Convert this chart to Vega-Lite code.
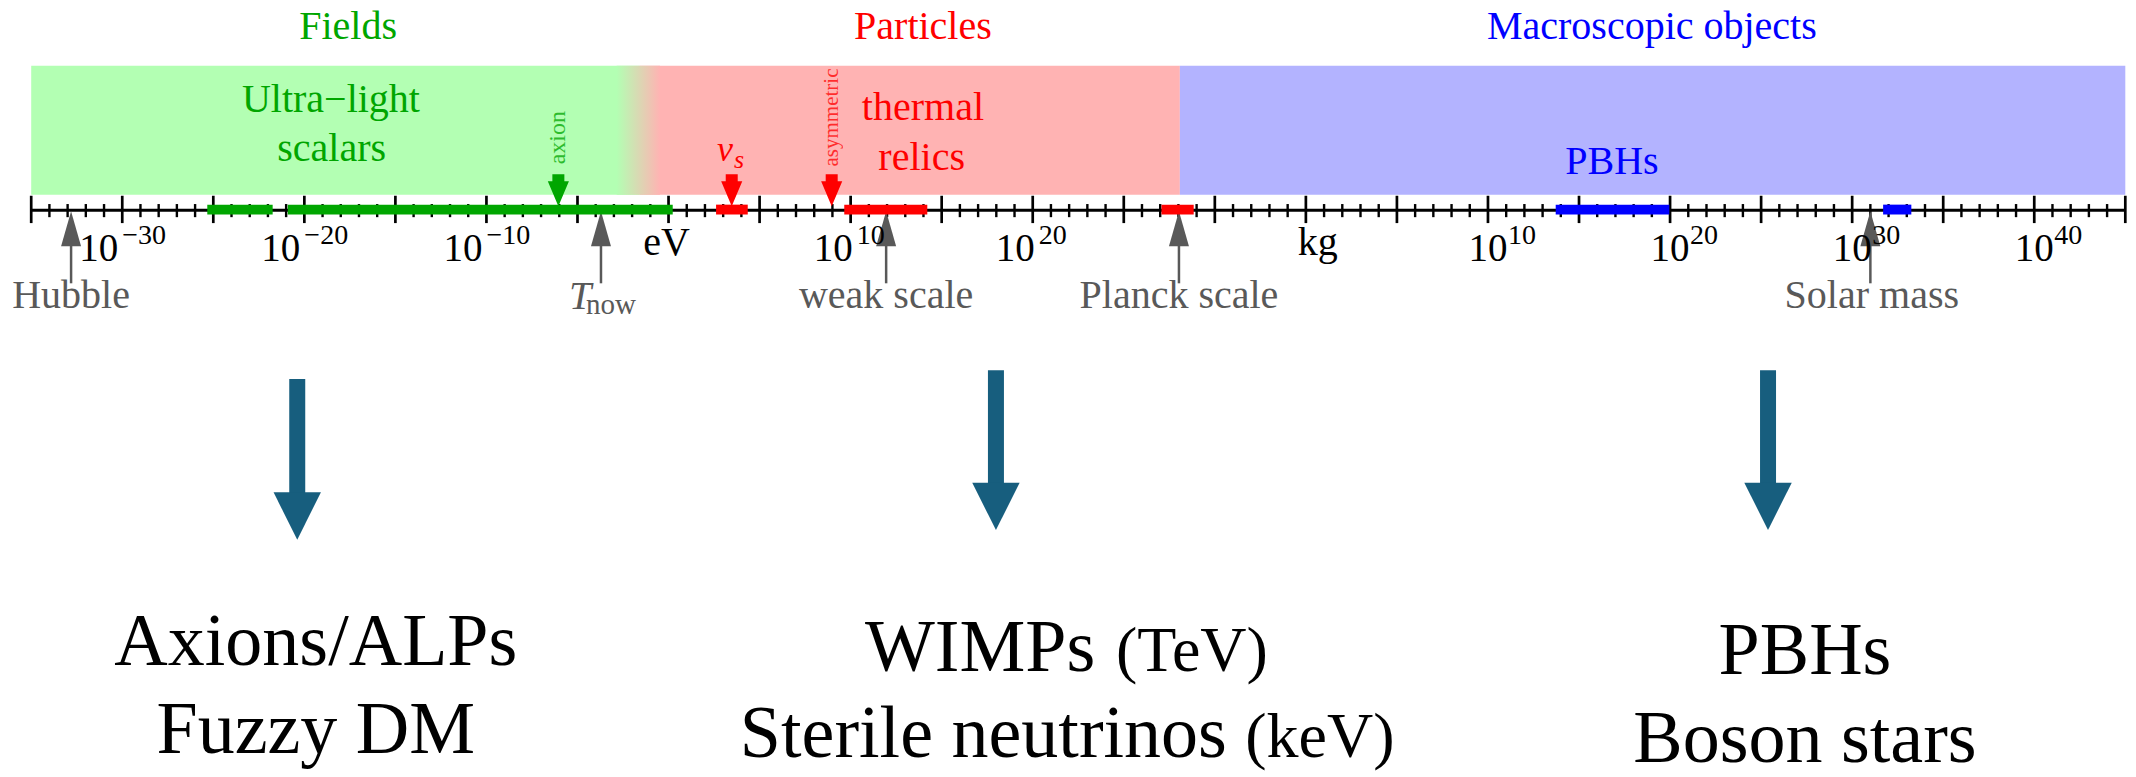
{
  "$schema": "https://vega.github.io/schema/vega-lite/v6.json",
  "width": 2136,
  "height": 777,
  "padding": 0,
  "autosize": {"type": "fit", "contains": "padding"},
  "background": "white",
  "config": {
    "view": {"stroke": null},
    "axis": {"disable": true},
    "legend": {"disable": true},
    "font": "Liberation Serif",
    "text": {"font": "Liberation Serif", "baseline": "alphabetic"}
  },
  "datasets": {
    "majors": [{"u":-35},{"u":-30},{"u":-25},{"u":-20},{"u":-15},{"u":-10},{"u":-5},{"u":0},{"u":5},{"u":10},{"u":15},{"u":20},{"u":25},{"u":30},{"u":35},{"u":40},{"u":45},{"u":50},{"u":55},{"u":60},{"u":65},{"u":70},{"u":75},{"u":80}],
    "minors": [{"u":-34},{"u":-33},{"u":-32},{"u":-31},{"u":-29},{"u":-28},{"u":-27},{"u":-26},{"u":-24},{"u":-23},{"u":-22},{"u":-21},{"u":-19},{"u":-18},{"u":-17},{"u":-16},{"u":-14},{"u":-13},{"u":-12},{"u":-11},{"u":-9},{"u":-8},{"u":-7},{"u":-6},{"u":-4},{"u":-3},{"u":-2},{"u":-1},{"u":1},{"u":2},{"u":3},{"u":4},{"u":6},{"u":7},{"u":8},{"u":9},{"u":11},{"u":12},{"u":13},{"u":14},{"u":16},{"u":17},{"u":18},{"u":19},{"u":21},{"u":22},{"u":23},{"u":24},{"u":26},{"u":27},{"u":28},{"u":29},{"u":31},{"u":32},{"u":33},{"u":34},{"u":36},{"u":37},{"u":38},{"u":39},{"u":41},{"u":42},{"u":43},{"u":44},{"u":46},{"u":47},{"u":48},{"u":49},{"u":51},{"u":52},{"u":53},{"u":54},{"u":56},{"u":57},{"u":58},{"u":59},{"u":61},{"u":62},{"u":63},{"u":64},{"u":66},{"u":67},{"u":68},{"u":69},{"u":71},{"u":72},{"u":73},{"u":74},{"u":76},{"u":77},{"u":78},{"u":79}],
    "gray": [{"name":"Hubble","u":-32.81},{"name":"T_now","u":-3.71},{"name":"weak scale","u":11.95},{"name":"Planck scale","u":28.03},{"name":"Solar mass","u":66.0}],
    "exps": [{"u":-30,"e":"−30","side":"neg"},{"u":-20,"e":"−20","side":"neg"},{"u":-10,"e":"−10","side":"neg"},{"u":10,"e":"10","side":"eV"},{"u":20,"e":"20","side":"eV"},{"u":45,"e":"10","side":"kg"},{"u":55,"e":"20","side":"kg"},{"u":65,"e":"30","side":"kg"},{"u":75,"e":"40","side":"kg"}],
    "big": [{"u":-20.39,"g":"left"},{"u":17.98,"g":"mid"},{"u":60.38,"g":"right"}],
    "bottom": [
      {"t":"Axions/ALPs","u":-19.37,"g":"left","line":1,"sz":"big"},
      {"t":"Fuzzy DM","u":-19.37,"g":"left","line":2,"sz":"big"},
      {"t":"WIMPs","u":17.11,"g":"mid","line":1,"sz":"big"},
      {"t":"(TeV)","u":28.74,"g":"mid","line":1,"sz":"small"},
      {"t":"Sterile neutrinos","u":17.29,"g":"mid","line":2,"sz":"big"},
      {"t":"(keV)","u":35.77,"g":"mid","line":2,"sz":"small"},
      {"t":"PBHs","u":62.41,"g":"right","line":1,"sz":"big"},
      {"t":"Boson stars","u":62.41,"g":"right","line":2,"sz":"big"}
    ]
  },
  "layer": [
    {
      "data": {"values": [{"cat":"Fields","u":-35,"u1":-1.6},{"cat":"Particles","u":-1.6,"u1":28.08},{"cat":"Macroscopic objects","u":28.08,"u1":80}]},
      "mark": {"type": "rect", "strokeWidth": 0},
      "encoding": {
        "x": {"field":"u","type":"quantitative","scale":{"domain":[-36.7134,80.5874],"nice":false,"zero":false}},
        "x2": {"field":"u1"},
        "y": {"datum":146.3,"type":"quantitative","scale":{"domain":[-564,213],"nice":false,"zero":false}},
        "y2": {"datum":15.7},
        "fill": {"field":"cat","type":"nominal","scale":{"domain":["Fields","Particles","Macroscopic objects"],"range":["#b3ffb3","#ffb3b3","#b3b3ff"]},"legend":null}
      }
    },
    {
      "data": {"values": [{"u":-2.85,"u1":-0.47}]},
      "mark": {"type": "rect", "strokeWidth": 0, "fill": {"gradient":"linear","x1":0,"y1":0,"x2":1,"y2":0,"stops":[{"offset":0,"color":"#b3ffb3"},{"offset":1,"color":"#ffb3b3"}]}},
      "encoding": {
        "x": {"field":"u","type":"quantitative","scale":{"domain":[-36.7134,80.5874],"nice":false,"zero":false}},
        "x2": {"field":"u1"},
        "y": {"datum":146.3,"type":"quantitative","scale":{"domain":[-564,213],"nice":false,"zero":false}},
        "y2": {"datum":15.7}
      }
    },
    {
      "data": {"name": "majors"},
      "mark": {"type": "rule", "color": "black", "strokeWidth": 2.7},
      "encoding": {
        "x": {"field":"u","type":"quantitative","scale":{"domain":[-36.7134,80.5874],"nice":false,"zero":false}},
        "y": {"datum":14.7,"type":"quantitative","scale":{"domain":[-564,213],"nice":false,"zero":false}},
        "y2": {"datum":-13}
      }
    },
    {
      "data": {"name": "minors"},
      "mark": {"type": "rule", "color": "black", "strokeWidth": 2.4},
      "encoding": {
        "x": {"field":"u","type":"quantitative","scale":{"domain":[-36.7134,80.5874],"nice":false,"zero":false}},
        "y": {"datum":6.3,"type":"quantitative","scale":{"domain":[-564,213],"nice":false,"zero":false}},
        "y2": {"datum":-7}
      }
    },
    {
      "data": {"values": [{"u":-35,"u1":80}]},
      "mark": {"type": "rule", "color": "black", "strokeWidth": 3},
      "encoding": {
        "x": {"field":"u","type":"quantitative","scale":{"domain":[-36.7134,80.5874],"nice":false,"zero":false}},
        "x2": {"field":"u1"},
        "y": {"datum":0,"type":"quantitative","scale":{"domain":[-564,213],"nice":false,"zero":false}}
      }
    },
    {
      "data": {"name": "gray"},
      "mark": {"type": "rule", "color": "#595959", "strokeWidth": 2.5},
      "encoding": {
        "x": {"field":"u","type":"quantitative","scale":{"domain":[-36.7134,80.5874],"nice":false,"zero":false}},
        "y": {"datum":-30,"type":"quantitative","scale":{"domain":[-564,213],"nice":false,"zero":false}},
        "y2": {"datum":-74}
      }
    },
    {
      "data": {"name": "gray"},
      "mark": {"type": "point", "shape": "M0,0 L0.571,2 L-0.571,2 Z", "size": 1225, "filled": true, "opacity": 1, "color": "#595959", "strokeWidth": 0},
      "encoding": {
        "x": {"field":"u","type":"quantitative","scale":{"domain":[-36.7134,80.5874],"nice":false,"zero":false}},
        "y": {"datum":-1,"type":"quantitative","scale":{"domain":[-564,213],"nice":false,"zero":false}}
      }
    },
    {
      "data": {"values": [{"cat":"Fields","u":-6.05},{"cat":"Particles","u":3.47},{"cat":"Particles","u":8.96}]},
      "mark": {"type": "point", "shape": "M0,0 L0.66,-1.56 L0.375,-1.56 L0.375,-2 L-0.375,-2 L-0.375,-1.56 L-0.66,-1.56 Z", "size": 1024, "filled": true, "opacity": 1, "strokeWidth": 0},
      "encoding": {
        "x": {"field":"u","type":"quantitative","scale":{"domain":[-36.7134,80.5874],"nice":false,"zero":false}},
        "y": {"datum":4,"type":"quantitative","scale":{"domain":[-564,213],"nice":false,"zero":false}},
        "color": {"field":"cat","type":"nominal","scale":{"domain":["Fields","Particles","Macroscopic objects"],"range":["#00a600","#ff0000","#0000ff"]},"legend":null}
      }
    },
    {
      "data": {"values": [
        {"cat":"Fields","u":-25.33,"u1":-21.74},
        {"cat":"Fields","u":-20.91,"u1":0.23},
        {"cat":"Particles","u":2.61,"u1":4.35},
        {"cat":"Particles","u":9.65,"u1":14.21},
        {"cat":"Particles","u":27.07,"u1":28.84},
        {"cat":"Macroscopic objects","u":48.72,"u1":54.96},
        {"cat":"Macroscopic objects","u":66.7,"u1":68.25}
      ]},
      "mark": {"type": "rect", "strokeWidth": 0},
      "encoding": {
        "x": {"field":"u","type":"quantitative","scale":{"domain":[-36.7134,80.5874],"nice":false,"zero":false}},
        "x2": {"field":"u1"},
        "y": {"datum":5.7,"type":"quantitative","scale":{"domain":[-564,213],"nice":false,"zero":false}},
        "y2": {"datum":-4.3},
        "color": {"field":"cat","type":"nominal","scale":{"domain":["Fields","Particles","Macroscopic objects"],"range":["#00a600","#ff0000","#0000ff"]},"legend":null}
      }
    },
    {
      "data": {"values": [{"cat":"Fields","u":-17.6},{"cat":"Particles","u":13.97},{"cat":"Macroscopic objects","u":54.0}]},
      "mark": {"type": "text", "font": "Liberation Serif", "baseline": "alphabetic", "fontSize": 40, "align": "center"},
      "encoding": {
        "x": {"field":"u","type":"quantitative","scale":{"domain":[-36.7134,80.5874],"nice":false,"zero":false}},
        "y": {"datum":173,"type":"quantitative","scale":{"domain":[-564,213],"nice":false,"zero":false}},
        "text": {"field":"cat"},
        "color": {"field":"cat","type":"nominal","scale":{"domain":["Fields","Particles","Macroscopic objects"],"range":["#00a600","#ff0000","#0000ff"]},"legend":null}
      }
    },
    {
      "data": {"values": [{"t":"Ultra−light","u":-18.54}]},
      "mark": {"type": "text", "font": "Liberation Serif", "baseline": "alphabetic", "fontSize": 40, "align": "center", "color": "#00a600"},
      "encoding": {
        "x": {"field":"u","type":"quantitative","scale":{"domain":[-36.7134,80.5874],"nice":false,"zero":false}},
        "y": {"datum":100,"type":"quantitative","scale":{"domain":[-564,213],"nice":false,"zero":false}},
        "text": {"field":"t"}
      }
    },
    {
      "data": {"values": [{"t":"scalars","u":-18.5}]},
      "mark": {"type": "text", "font": "Liberation Serif", "baseline": "alphabetic", "fontSize": 40, "align": "center", "color": "#00a600"},
      "encoding": {
        "x": {"field":"u","type":"quantitative","scale":{"domain":[-36.7134,80.5874],"nice":false,"zero":false}},
        "y": {"datum":50,"type":"quantitative","scale":{"domain":[-564,213],"nice":false,"zero":false}},
        "text": {"field":"t"}
      }
    },
    {
      "data": {"values": [{"t":"thermal","u":13.97}]},
      "mark": {"type": "text", "font": "Liberation Serif", "baseline": "alphabetic", "fontSize": 40, "align": "center", "color": "#ff0000"},
      "encoding": {
        "x": {"field":"u","type":"quantitative","scale":{"domain":[-36.7134,80.5874],"nice":false,"zero":false}},
        "y": {"datum":91,"type":"quantitative","scale":{"domain":[-564,213],"nice":false,"zero":false}},
        "text": {"field":"t"}
      }
    },
    {
      "data": {"values": [{"t":"relics","u":13.9}]},
      "mark": {"type": "text", "font": "Liberation Serif", "baseline": "alphabetic", "fontSize": 40, "align": "center", "color": "#ff0000"},
      "encoding": {
        "x": {"field":"u","type":"quantitative","scale":{"domain":[-36.7134,80.5874],"nice":false,"zero":false}},
        "y": {"datum":41,"type":"quantitative","scale":{"domain":[-564,213],"nice":false,"zero":false}},
        "text": {"field":"t"}
      }
    },
    {
      "data": {"values": [{"t":"PBHs","u":51.81}]},
      "mark": {"type": "text", "font": "Liberation Serif", "baseline": "alphabetic", "fontSize": 40, "align": "center", "color": "#0000ff"},
      "encoding": {
        "x": {"field":"u","type":"quantitative","scale":{"domain":[-36.7134,80.5874],"nice":false,"zero":false}},
        "y": {"datum":36.3,"type":"quantitative","scale":{"domain":[-564,213],"nice":false,"zero":false}},
        "text": {"field":"t"}
      }
    },
    {
      "data": {"values": [{"t":"axion","u":-6.05}]},
      "mark": {"type": "text", "font": "Liberation Serif", "fontSize": 24, "align": "center", "baseline": "middle", "angle": 270, "color": "#00a600", "opacity": 0.75},
      "encoding": {
        "x": {"field":"u","type":"quantitative","scale":{"domain":[-36.7134,80.5874],"nice":false,"zero":false}},
        "y": {"datum":73.5,"type":"quantitative","scale":{"domain":[-564,213],"nice":false,"zero":false}},
        "text": {"field":"t"}
      }
    },
    {
      "data": {"values": [{"t":"asymmetric","u":8.96}]},
      "mark": {"type": "text", "font": "Liberation Serif", "fontSize": 21, "align": "center", "baseline": "middle", "angle": 270, "color": "#ff0000", "opacity": 0.75},
      "encoding": {
        "x": {"field":"u","type":"quantitative","scale":{"domain":[-36.7134,80.5874],"nice":false,"zero":false}},
        "y": {"datum":94,"type":"quantitative","scale":{"domain":[-564,213],"nice":false,"zero":false}},
        "text": {"field":"t"}
      }
    },
    {
      "data": {"values": [{"t":"ν","u":3.1}]},
      "mark": {"type": "text", "font": "Liberation Serif", "baseline": "alphabetic", "fontSize": 36, "fontStyle": "italic", "align": "center", "color": "#ff0000"},
      "encoding": {
        "x": {"field":"u","type":"quantitative","scale":{"domain":[-36.7134,80.5874],"nice":false,"zero":false}},
        "y": {"datum":49.7,"type":"quantitative","scale":{"domain":[-564,213],"nice":false,"zero":false}},
        "text": {"field":"t"}
      }
    },
    {
      "data": {"values": [{"t":"s","u":3.87}]},
      "mark": {"type": "text", "font": "Liberation Serif", "baseline": "alphabetic", "fontSize": 26, "fontStyle": "italic", "align": "center", "color": "#ff0000"},
      "encoding": {
        "x": {"field":"u","type":"quantitative","scale":{"domain":[-36.7134,80.5874],"nice":false,"zero":false}},
        "y": {"datum":43,"type":"quantitative","scale":{"domain":[-564,213],"nice":false,"zero":false}},
        "text": {"field":"t"}
      }
    },
    {
      "data": {"name": "exps"},
      "transform": [{"filter": "datum.side == 'neg'"}],
      "mark": {"type": "text", "font": "Liberation Serif", "baseline": "alphabetic", "fontSize": 39, "align": "right", "dx": -4, "color": "black"},
      "encoding": {
        "x": {"field":"u","type":"quantitative","scale":{"domain":[-36.7134,80.5874],"nice":false,"zero":false}},
        "y": {"datum":-51,"type":"quantitative","scale":{"domain":[-564,213],"nice":false,"zero":false}},
        "text": {"value":"10"}
      }
    },
    {
      "data": {"name": "exps"},
      "transform": [{"filter": "datum.side == 'neg'"}],
      "mark": {"type": "text", "font": "Liberation Serif", "baseline": "alphabetic", "fontSize": 28, "align": "left", "dx": 0, "color": "black"},
      "encoding": {
        "x": {"field":"u","type":"quantitative","scale":{"domain":[-36.7134,80.5874],"nice":false,"zero":false}},
        "y": {"datum":-33.7,"type":"quantitative","scale":{"domain":[-564,213],"nice":false,"zero":false}},
        "text": {"field":"e"}
      }
    },
    {
      "data": {"name": "exps"},
      "transform": [{"filter": "datum.side == 'eV'"}],
      "mark": {"type": "text", "font": "Liberation Serif", "baseline": "alphabetic", "fontSize": 39, "align": "right", "dx": 2, "color": "black"},
      "encoding": {
        "x": {"field":"u","type":"quantitative","scale":{"domain":[-36.7134,80.5874],"nice":false,"zero":false}},
        "y": {"datum":-51,"type":"quantitative","scale":{"domain":[-564,213],"nice":false,"zero":false}},
        "text": {"value":"10"}
      }
    },
    {
      "data": {"name": "exps"},
      "transform": [{"filter": "datum.side == 'eV'"}],
      "mark": {"type": "text", "font": "Liberation Serif", "baseline": "alphabetic", "fontSize": 28, "align": "left", "dx": 6, "color": "black"},
      "encoding": {
        "x": {"field":"u","type":"quantitative","scale":{"domain":[-36.7134,80.5874],"nice":false,"zero":false}},
        "y": {"datum":-33.7,"type":"quantitative","scale":{"domain":[-564,213],"nice":false,"zero":false}},
        "text": {"field":"e"}
      }
    },
    {
      "data": {"name": "exps"},
      "transform": [{"filter": "datum.side == 'kg'"}],
      "mark": {"type": "text", "font": "Liberation Serif", "baseline": "alphabetic", "fontSize": 39, "align": "right", "dx": 19.5, "color": "black"},
      "encoding": {
        "x": {"field":"u","type":"quantitative","scale":{"domain":[-36.7134,80.5874],"nice":false,"zero":false}},
        "y": {"datum":-51,"type":"quantitative","scale":{"domain":[-564,213],"nice":false,"zero":false}},
        "text": {"value":"10"}
      }
    },
    {
      "data": {"name": "exps"},
      "transform": [{"filter": "datum.side == 'kg'"}],
      "mark": {"type": "text", "font": "Liberation Serif", "baseline": "alphabetic", "fontSize": 28, "align": "left", "dx": 20, "color": "black"},
      "encoding": {
        "x": {"field":"u","type":"quantitative","scale":{"domain":[-36.7134,80.5874],"nice":false,"zero":false}},
        "y": {"datum":-33.7,"type":"quantitative","scale":{"domain":[-564,213],"nice":false,"zero":false}},
        "text": {"field":"e"}
      }
    },
    {
      "data": {"values": [{"t":"eV","u":0}]},
      "mark": {"type": "text", "font": "Liberation Serif", "baseline": "alphabetic", "fontSize": 40, "align": "center", "dx": -2, "color": "black"},
      "encoding": {
        "x": {"field":"u","type":"quantitative","scale":{"domain":[-36.7134,80.5874],"nice":false,"zero":false}},
        "y": {"datum":-45.5,"type":"quantitative","scale":{"domain":[-564,213],"nice":false,"zero":false}},
        "text": {"field":"t"}
      }
    },
    {
      "data": {"values": [{"t":"kg","u":35}]},
      "mark": {"type": "text", "font": "Liberation Serif", "baseline": "alphabetic", "fontSize": 40, "align": "center", "dx": 12, "color": "black"},
      "encoding": {
        "x": {"field":"u","type":"quantitative","scale":{"domain":[-36.7134,80.5874],"nice":false,"zero":false}},
        "y": {"datum":-45.5,"type":"quantitative","scale":{"domain":[-564,213],"nice":false,"zero":false}},
        "text": {"field":"t"}
      }
    },
    {
      "data": {"values": [{"t":"Hubble","u":-32.81},{"t":"weak scale","u":11.95},{"t":"Planck scale","u":28.03},{"t":"Solar mass","u":66.08}]},
      "mark": {"type": "text", "font": "Liberation Serif", "baseline": "alphabetic", "fontSize": 40, "align": "center", "color": "#595959"},
      "encoding": {
        "x": {"field":"u","type":"quantitative","scale":{"domain":[-36.7134,80.5874],"nice":false,"zero":false}},
        "y": {"datum":-99.5,"type":"quantitative","scale":{"domain":[-564,213],"nice":false,"zero":false}},
        "text": {"field":"t"}
      }
    },
    {
      "data": {"values": [{"t":"T","u":-4.86}]},
      "mark": {"type": "text", "font": "Liberation Serif", "baseline": "alphabetic", "fontSize": 40, "fontStyle": "italic", "align": "center", "color": "#595959"},
      "encoding": {
        "x": {"field":"u","type":"quantitative","scale":{"domain":[-36.7134,80.5874],"nice":false,"zero":false}},
        "y": {"datum":-100.3,"type":"quantitative","scale":{"domain":[-564,213],"nice":false,"zero":false}},
        "text": {"field":"t"}
      }
    },
    {
      "data": {"values": [{"t":"now","u":-3.16}]},
      "mark": {"type": "text", "font": "Liberation Serif", "baseline": "alphabetic", "fontSize": 29, "align": "center", "color": "#595959"},
      "encoding": {
        "x": {"field":"u","type":"quantitative","scale":{"domain":[-36.7134,80.5874],"nice":false,"zero":false}},
        "y": {"datum":-105.3,"type":"quantitative","scale":{"domain":[-564,213],"nice":false,"zero":false}},
        "text": {"field":"t"}
      }
    },
    {
      "data": {"name": "big"},
      "transform": [{"filter": "datum.g == 'left'"}],
      "mark": {"type": "rule", "color": "#175e7e", "strokeWidth": 16},
      "encoding": {
        "x": {"field":"u","type":"quantitative","scale":{"domain":[-36.7134,80.5874],"nice":false,"zero":false}},
        "y": {"datum":-171,"type":"quantitative","scale":{"domain":[-564,213],"nice":false,"zero":false}},
        "y2": {"datum":-288}
      }
    },
    {
      "data": {"name": "big"},
      "transform": [{"filter": "datum.g != 'left'"}],
      "mark": {"type": "rule", "color": "#175e7e", "strokeWidth": 16},
      "encoding": {
        "x": {"field":"u","type":"quantitative","scale":{"domain":[-36.7134,80.5874],"nice":false,"zero":false}},
        "y": {"datum":-162,"type":"quantitative","scale":{"domain":[-564,213],"nice":false,"zero":false}},
        "y2": {"datum":-279}
      }
    },
    {
      "data": {"name": "big"},
      "transform": [{"filter": "datum.g == 'left'"}],
      "mark": {"type": "point", "shape": "M0,0 L1,-2 L-1,-2 Z", "size": 2247, "filled": true, "opacity": 1, "color": "#175e7e", "strokeWidth": 0},
      "encoding": {
        "x": {"field":"u","type":"quantitative","scale":{"domain":[-36.7134,80.5874],"nice":false,"zero":false}},
        "y": {"datum":-333.7,"type":"quantitative","scale":{"domain":[-564,213],"nice":false,"zero":false}}
      }
    },
    {
      "data": {"name": "big"},
      "transform": [{"filter": "datum.g != 'left'"}],
      "mark": {"type": "point", "shape": "M0,0 L1,-2 L-1,-2 Z", "size": 2247, "filled": true, "opacity": 1, "color": "#175e7e", "strokeWidth": 0},
      "encoding": {
        "x": {"field":"u","type":"quantitative","scale":{"domain":[-36.7134,80.5874],"nice":false,"zero":false}},
        "y": {"datum":-324,"type":"quantitative","scale":{"domain":[-564,213],"nice":false,"zero":false}}
      }
    },
    {
      "data": {"name": "bottom"},
      "transform": [{"filter": "datum.g == 'left' && datum.line == 1"}],
      "mark": {"type": "text", "font": "Liberation Serif", "baseline": "alphabetic", "align": "center", "color": "black"},
      "encoding": {
        "x": {"field":"u","type":"quantitative","scale":{"domain":[-36.7134,80.5874],"nice":false,"zero":false}},
        "y": {"datum":-460.3,"type":"quantitative","scale":{"domain":[-564,213],"nice":false,"zero":false}},
        "text": {"field":"t"},
        "size": {"field":"sz","type":"nominal","scale":{"domain":["big","small"],"range":[74,64]},"legend":null}
      }
    },
    {
      "data": {"name": "bottom"},
      "transform": [{"filter": "datum.g == 'left' && datum.line == 2"}],
      "mark": {"type": "text", "font": "Liberation Serif", "baseline": "alphabetic", "align": "center", "color": "black"},
      "encoding": {
        "x": {"field":"u","type":"quantitative","scale":{"domain":[-36.7134,80.5874],"nice":false,"zero":false}},
        "y": {"datum":-550.3,"type":"quantitative","scale":{"domain":[-564,213],"nice":false,"zero":false}},
        "text": {"field":"t"},
        "size": {"field":"sz","type":"nominal","scale":{"domain":["big","small"],"range":[74,64]},"legend":null}
      }
    },
    {
      "data": {"name": "bottom"},
      "transform": [{"filter": "datum.g == 'mid' && datum.line == 1"}],
      "mark": {"type": "text", "font": "Liberation Serif", "baseline": "alphabetic", "align": "center", "color": "black"},
      "encoding": {
        "x": {"field":"u","type":"quantitative","scale":{"domain":[-36.7134,80.5874],"nice":false,"zero":false}},
        "y": {"datum":-466.3,"type":"quantitative","scale":{"domain":[-564,213],"nice":false,"zero":false}},
        "text": {"field":"t"},
        "size": {"field":"sz","type":"nominal","scale":{"domain":["big","small"],"range":[74,64]},"legend":null}
      }
    },
    {
      "data": {"name": "bottom"},
      "transform": [{"filter": "datum.g == 'mid' && datum.line == 2"}],
      "mark": {"type": "text", "font": "Liberation Serif", "baseline": "alphabetic", "align": "center", "color": "black"},
      "encoding": {
        "x": {"field":"u","type":"quantitative","scale":{"domain":[-36.7134,80.5874],"nice":false,"zero":false}},
        "y": {"datum":-553.7,"type":"quantitative","scale":{"domain":[-564,213],"nice":false,"zero":false}},
        "text": {"field":"t"},
        "size": {"field":"sz","type":"nominal","scale":{"domain":["big","small"],"range":[74,64]},"legend":null}
      }
    },
    {
      "data": {"name": "bottom"},
      "transform": [{"filter": "datum.g == 'right' && datum.line == 1"}],
      "mark": {"type": "text", "font": "Liberation Serif", "baseline": "alphabetic", "align": "center", "color": "black"},
      "encoding": {
        "x": {"field":"u","type":"quantitative","scale":{"domain":[-36.7134,80.5874],"nice":false,"zero":false}},
        "y": {"datum":-469.7,"type":"quantitative","scale":{"domain":[-564,213],"nice":false,"zero":false}},
        "text": {"field":"t"},
        "size": {"field":"sz","type":"nominal","scale":{"domain":["big","small"],"range":[74,64]},"legend":null}
      }
    },
    {
      "data": {"name": "bottom"},
      "transform": [{"filter": "datum.g == 'right' && datum.line == 2"}],
      "mark": {"type": "text", "font": "Liberation Serif", "baseline": "alphabetic", "align": "center", "color": "black"},
      "encoding": {
        "x": {"field":"u","type":"quantitative","scale":{"domain":[-36.7134,80.5874],"nice":false,"zero":false}},
        "y": {"datum":-558.7,"type":"quantitative","scale":{"domain":[-564,213],"nice":false,"zero":false}},
        "text": {"field":"t"},
        "size": {"field":"sz","type":"nominal","scale":{"domain":["big","small"],"range":[74,64]},"legend":null}
      }
    }
  ]
}
